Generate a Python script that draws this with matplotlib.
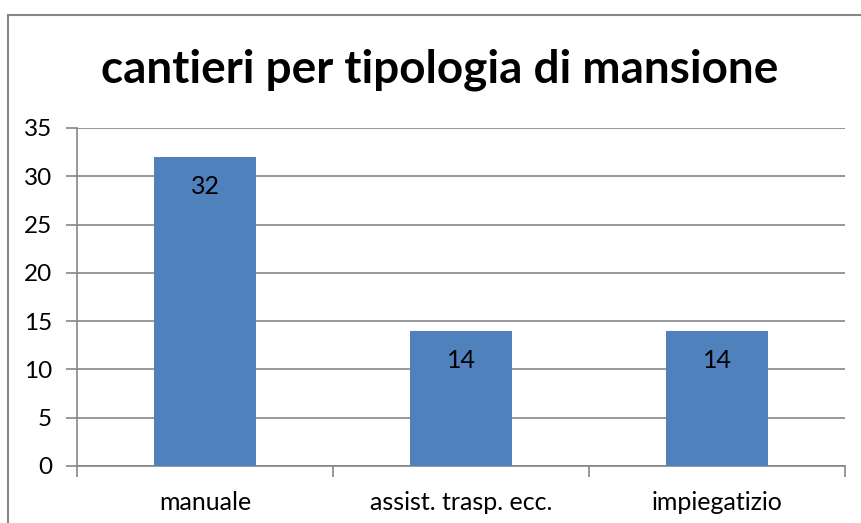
import matplotlib
matplotlib.use('Agg')
import matplotlib.pyplot as plt
from matplotlib.patches import Rectangle

categorie = ['manuale', 'assist. trasp. ecc.', 'impiegatizio']
valori = [32, 14, 14]
titolo = 'cantieri per tipologia di mansione'

W, H = 861, 523
plt.rcParams['font.family'] = ['Lato', 'DejaVu Sans']

fig = plt.figure(figsize=(W / 100, H / 100), dpi=100)
fig.patch.set_facecolor('white')

# cornice esterna (tagliata a destra e in basso)
fig.patches.append(Rectangle((8 / W, -0.1), 1.2, 1 - 15 / H + 0.1, transform=fig.transFigure,
                             fill=False, edgecolor='#878787', linewidth=1.5))

ax = fig.add_axes([77 / W, 1 - 466 / H, (845 - 77) / W, (466 - 128) / H])
x = range(len(categorie))
bars = ax.bar(x, valori, width=0.4, color='#4F81BD', zorder=3)
for b, v in zip(bars, valori):
    ax.text(b.get_x() + b.get_width() / 2, v - 3.1, str(v), ha='center', va='center',
            fontsize=18, color='black', zorder=4)

ax.set_xlim(-0.5, len(categorie) - 0.5)
ax.set_ylim(0, 35)
ax.set_yticks(range(0, 36, 5))
ax.yaxis.grid(True, color='#868686', linewidth=1.2, zorder=0)
ax.set_xticks(list(x))
ax.set_xticklabels(categorie)
ax.set_xticks([i - 0.5 for i in range(len(categorie) + 1)], minor=True)
ax.tick_params(axis='x', which='major', length=0, labelsize=18, pad=18)
ax.tick_params(axis='x', which='minor', length=8, width=1.2, color='#868686', direction='out')
ax.tick_params(axis='y', length=8, width=1.2, color='#868686', labelsize=17.5, pad=10)
for s in ['top', 'right']:
    ax.spines[s].set_visible(False)
for s in ['left', 'bottom']:
    ax.spines[s].set_color('#868686')
    ax.spines[s].set_linewidth(1.2)

fig.text(440 / W, 1 - 70 / H, titolo, ha='center', va='center', fontsize=33, fontweight='bold')

fig.savefig('out.png', dpi=100)
